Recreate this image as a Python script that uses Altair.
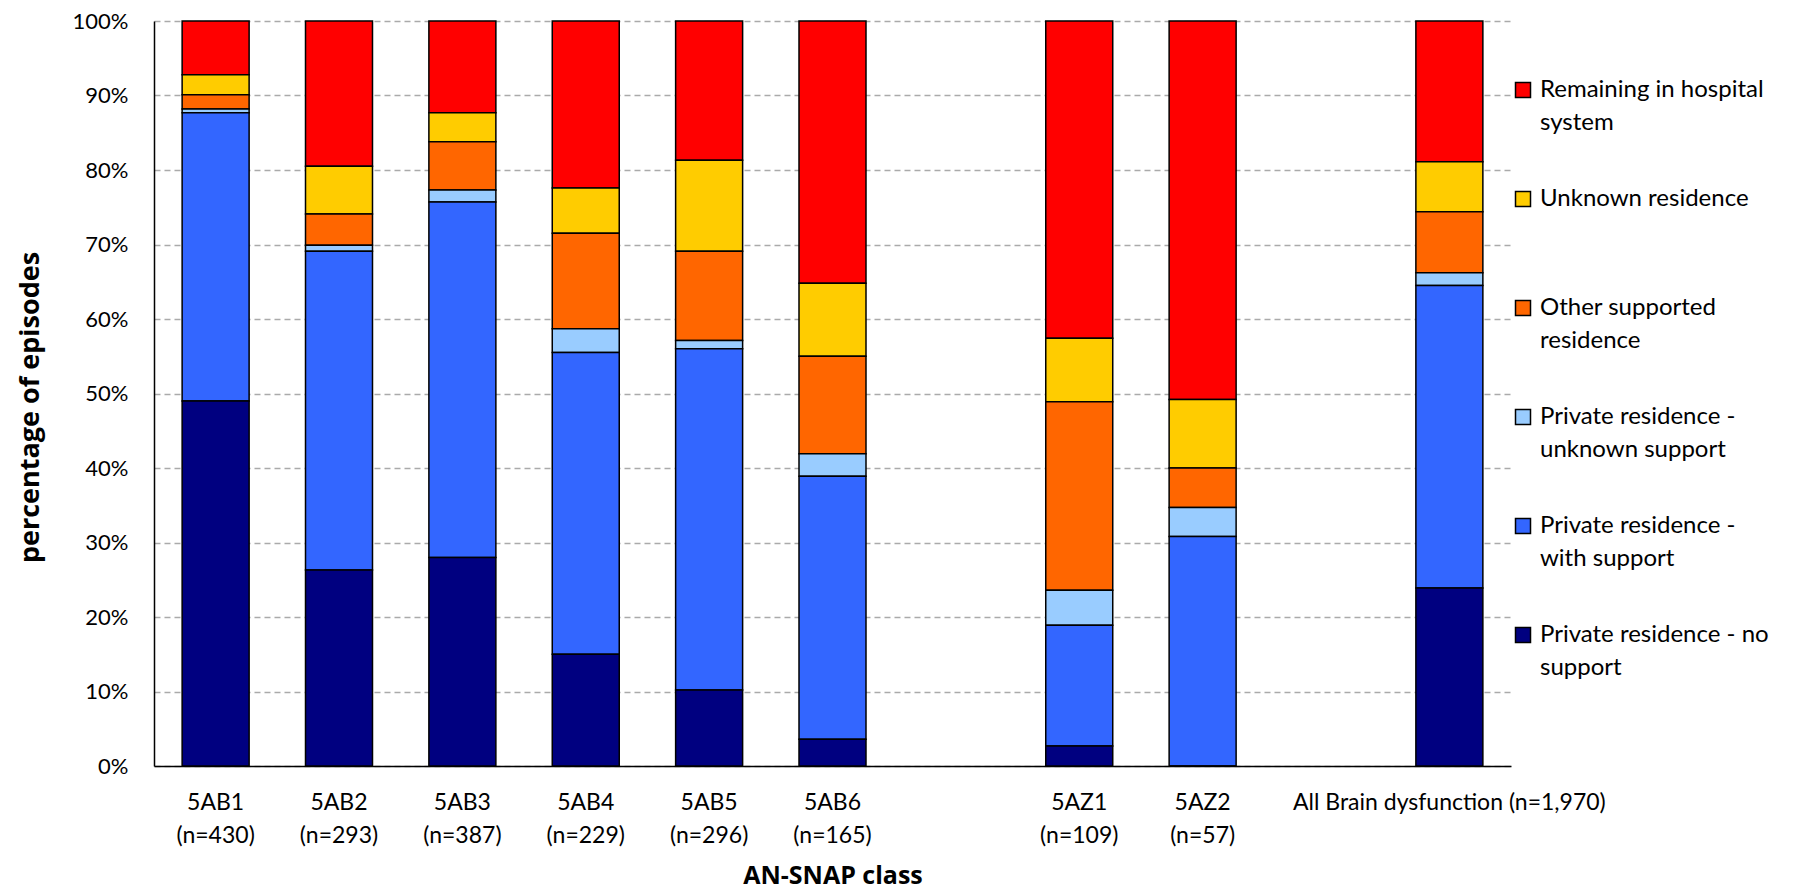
import altair as alt
import pandas as pd

# x slots (gap slots are empty spacers between groups)
categories = ["5AB1|(n=430)", "5AB2|(n=293)", "5AB3|(n=387)", "5AB4|(n=229)",
              "5AB5|(n=296)", "5AB6|(n=165)", "gap1", "5AZ1|(n=109)",
              "5AZ2|(n=57)", "gap2", "All Brain dysfunction (n=1,970)"]
bar_categories = [c for c in categories if not c.startswith("gap")]

# legend order (top to bottom)
series_names = ["Remaining in hospital|system", "Unknown residence",
                "Other supported|residence", "Private residence -|unknown support",
                "Private residence -|with support", "Private residence - no|support"]
series_colors = ["#FF0000", "#FFCC00", "#FF6600", "#99CCFF", "#3366FF", "#000080"]

# percentages, per bar category
remaining = [7.2, 19.5, 12.3, 22.4, 18.7, 35.2, 42.6, 50.8, 18.9]
unknown_residence = [2.7, 6.4, 3.9, 6.1, 12.2, 9.8, 8.5, 9.2, 6.7]
other_supported = [1.9, 4.2, 6.5, 12.8, 12.0, 13.1, 25.3, 5.3, 8.2]
unknown_support = [0.5, 0.8, 1.6, 3.2, 1.1, 3.0, 4.7, 3.9, 1.7]
with_support = [38.7, 42.8, 47.7, 40.5, 45.8, 35.3, 16.2, 30.8, 40.6]
no_support = [49.0, 26.3, 28.0, 15.0, 10.2, 3.6, 2.7, 0.0, 23.9]

y_ticks = [0, 10, 20, 30, 40, 50, 60, 70, 80, 90, 100]

series_values = [remaining, unknown_residence, other_supported,
                 unknown_support, with_support, no_support]
rows = []
for si, (name, vals) in enumerate(zip(series_names, series_values)):
    for cat, v in zip(bar_categories, vals):
        rows.append({"cat": cat, "series": name, "value": v,
                     "stack_idx": len(series_names) - 1 - si})
df = pd.DataFrame(rows)

FONT = "Lato"
TITLE_FONT = "Open Sans"

chart = alt.Chart(df).mark_bar(stroke="black", strokeWidth=1.5).encode(
    x=alt.X("cat:N", scale=alt.Scale(domain=categories, paddingInner=0.457, paddingOuter=0.228),
            sort=categories,
            axis=alt.Axis(title="AN-SNAP class",
                          labelExpr="indexof(datum.label, 'gap') == 0 ? '' : split(datum.label, '|')",
                          labelAngle=0, ticks=False, labelPadding=25, labelFontSize=23,
                          labelLineHeight=33, labelColor="black",
                          titleFont=TITLE_FONT, titleFontSize=25, titleFontWeight="bold",
                          titlePadding=16,
                          domainColor="black", domainWidth=1.5, labelLimit=0)),
    y=alt.Y("value:Q", stack="zero", scale=alt.Scale(domain=[0, 100], nice=False),
            axis=alt.Axis(title="percentage of episodes", values=y_ticks,
                          labelExpr="datum.value + '%'", ticks=False, labelPadding=26,
                          labelFontSize=22, labelLineHeight=22, labelColor="black",
                          titleFont=TITLE_FONT, titleFontSize=27, titleFontWeight="bold",
                          titlePadding=28, titleY=386,
                          domainColor="black", domainWidth=1.5,
                          grid=True, gridColor="#AAAAAA", gridDash=[6, 4], gridWidth=1.5)),
    color=alt.Color("series:N", scale=alt.Scale(domain=series_names, range=series_colors),
                    legend=alt.Legend(title=None, orient="none", legendX=1357, legendY=57,
                                      symbolType="square", symbolSize=225,
                                      symbolStrokeColor="black", symbolStrokeWidth=1.5,
                                      labelFontSize=24, labelLimit=0, labelColor="black",
                                      labelExpr="indexof(datum.label, '|') >= 0 ? split(datum.label, '|') : [datum.label, '']",
                                      rowPadding=52, labelOffset=5)),
    order=alt.Order("stack_idx:Q", sort="ascending"),
).properties(
    width=1357, height=745,
    autosize=alt.AutoSizeParams(type="none"),
    padding={"left": 146, "top": 13, "right": 281, "bottom": 126},
).configure(
    font=FONT,
    style={"guide-label": {"lineHeight": 33}},
).configure_view(
    stroke=None
).configure_legend(
    labelFont=FONT
)

chart.save("out.html", embed_options={"renderer": "svg", "actions": False})
